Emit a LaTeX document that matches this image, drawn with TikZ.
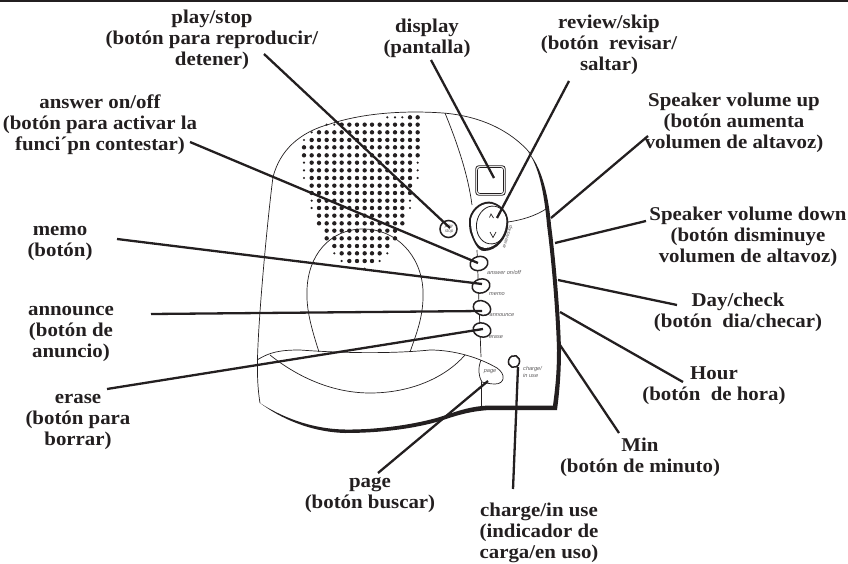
\documentclass[tikz,border=0pt]{standalone}
\usepackage{fontspec}
\usetikzlibrary{shapes.geometric}
\setmainfont[FakeStretch=1.07]{Liberation Serif}
\setsansfont{Liberation Sans}
\definecolor{ink}{HTML}{231F20}
\definecolor{tiny}{HTML}{5A5859}
\tikzset{
  lab/.style={font=\fontsize{19.5}{21}\selectfont\bfseries,align=center,inner sep=0pt,text=ink},
  leader/.style={draw=ink,line width=2.3pt},
  thin/.style={draw=ink,line width=0.7pt},
  btn/.style={draw=ink,line width=1.5pt,fill=white},
  small/.style={font=\fontsize{5.6}{6.5}\selectfont\sffamily\itshape,text=tiny,inner sep=0pt,align=left},
}
\newcommand{\bigdots}[2]{\foreach \c in {#2}{\fill[ink] ({230+\c/3},{90+#1/3}) circle (2.2);}}
\newcommand{\smdots}[2]{\foreach \c in {#2}{\fill[ink] ({230+\c/3},{90+#1/3}) circle (1.2);}}
\begin{document}
\begin{tikzpicture}[x=1pt,y=-1pt]
\useasboundingbox (0,0) rectangle (848,564);
\fill[ink] (0,0) rectangle (848,2.4);
% speaker grille
\smdots{82}{472,495,517}\bigdots{82}{540,563}
\smdots{104}{290,313}\bigdots{104}{335,358,381,404,426,449,472,495,517,540,563}
\smdots{127}{245}\bigdots{127}{267,290,313,335,358,381,404,426,449,472,495,517,540,563}
\smdots{150}{222}\bigdots{150}{245,267,290,313,335,358,381,404,426,449,472,495,517,540,563}
\bigdots{172}{222,245,267,290,313,335,358,381,404,426,449,472,495,517,540,563}
\bigdots{196}{222,245,267,290,313,335,358,381,404,426,449,472,495,517,540,563}
\foreach \r in {218,241,264}{\smdots{\r}{222,563}\bigdots{\r}{245,267,290,313,335,358,381,404,426,449,472,495,517,540}}
\foreach \r in {287,309}{\bigdots{\r}{245,267,290,313,335,358,381,404,426,449,472,495,517,540}}
\foreach \r in {332,354}{\smdots{\r}{245,540}\bigdots{\r}{267,290,313,335,358,381,404,426,449,472,495,517}}
\foreach \r in {377,400}{\bigdots{\r}{267,290,313,335,358,381,404,426,449,472,495,517}}
\foreach \r in {422,445}{\bigdots{\r}{290,313,335,358,381,404,426,449,472,495}}
\bigdots{468}{313,335,358,381,404,426,449,472}
\smdots{490}{313,472}\bigdots{490}{335,358,381,404,426,449}
\smdots{513}{335,449}\bigdots{513}{358,381,404,426}
\smdots{536}{404}
% body outline
\draw[thin] (260,403) .. controls (257,385) and (257,365) .. (258,345) .. controls (260,300) and (268,215) .. (273,177)
  .. controls (280,150) and (300,132) .. (330,124) .. controls (360,114) and (400,110) .. (443,113)
  .. controls (480,116) and (510,130) .. (530,153);
\fill[ink] (528,152) .. controls (540,165) and (548,190) .. (551,225) .. controls (555,255) and (560,310) .. (561,350)
  .. controls (561,375) and (559,395) .. (557,410) -- (490,410) .. controls (470,411) and (455,416) .. (443,420)
  .. controls (425,426) and (390,433) .. (345,433) .. controls (310,432) and (280,418) .. (260,403)
  .. controls (280,416) and (310,429) .. (345,429.5) .. controls (385,430) and (425,422) .. (443,416)
  .. controls (455,412) and (470,406) .. (490,405.5) -- (553,405.5) .. controls (555,390) and (557,375) .. (557,350)
  .. controls (556,310) and (551,255) .. (547,225) .. controls (544,190) and (538,165) .. (528,152) -- cycle;
% handset arch
\draw[thin] (319,352) .. controls (312,330) and (306,310) .. (307,290) .. controls (308,255) and (330,229) .. (363,229)
  .. controls (396,229) and (421,255) .. (423,290) .. controls (424,315) and (417,332) .. (410,352);
% cradle
\draw[thin] (257,360) .. controls (270,352) and (280,350) .. (300,350) .. controls (340,353) and (390,354) .. (430,350)
  .. controls (455,350) and (480,358) .. (497,368) .. controls (506,374) and (505,384) .. (495,384)
  .. controls (490,384) and (486,383) .. (482,382) .. controls (478,375) and (478,368) .. (481,360);
\draw[thin] (270,355) .. controls (295,375) and (330,393) .. (370,393) .. controls (410,393) and (445,378) .. (465,355);
% vertical seam and display panel
\draw[thin] (481,408) -- (481,382);
\draw[thin] (481,357) -- (477,250);
\draw[thin] (445,113) .. controls (458,145) and (468,175) .. (472,205);
\draw[thin] (508,222) .. controls (522,220) and (535,216) .. (546,209);
% display
\node[draw=ink,line width=0.8pt,rounded corners=3pt,minimum width=29.5pt,minimum height=29.5pt,inner sep=0pt] (disp) at (490.5,180.5) {};
\node[draw=ink,line width=0.6pt,rounded corners=2.5pt,minimum width=26pt,minimum height=26pt,inner sep=0pt] (dispin) at (490.5,180.5) {};
% review/skip control
\fill[ink] (469,219) .. controls (472,206) and (484,200) .. (492,202) .. controls (503,205) and (510,215) .. (508,226)
  .. controls (507,238) and (497,251) .. (484,251) .. controls (477,251) and (473,240) .. (470,232) .. controls (469,228) and (469,223) .. (469,219) -- cycle;
\fill[white] (471,219) .. controls (474,208) and (484,202) .. (492,204) .. controls (502,207) and (508,215) .. (506,225)
  .. controls (505,236) and (496,248) .. (485,248) .. controls (478,248) and (474,239) .. (472,231) .. controls (471,227) and (471,223) .. (471,219) -- cycle;
\node[draw=ink,line width=0.8pt,ellipse,minimum width=31pt,minimum height=38pt,inner sep=0pt,rotate=-8] (rev) at (492,225) {};
\draw[ink,line width=0.7pt] (489.5,217.5) -- (491,214) -- (493.5,218);
\draw[ink,line width=0.7pt] (490,232) -- (493,237.5) -- (496,232);
\node[small,rotate=72,font=\fontsize{4.8}{5}\selectfont\sffamily\itshape] at (507.5,237) {review/skip};
% buttons
\node[btn,circle,minimum size=17pt,inner sep=0pt] (play) at (448.5,229) {};
\node[small,font=\fontsize{4.5}{4.5}\selectfont\sffamily\itshape,align=center] at (449,229) {play\\stop};
\node[btn,ellipse,minimum width=18pt,minimum height=14pt,inner sep=0pt,rotate=15] (answer) at (479,263.5) {};
\node[btn,ellipse,minimum width=18pt,minimum height=14pt,inner sep=0pt,rotate=15] (memo) at (481,286) {};
\node[btn,ellipse,minimum width=18pt,minimum height=14pt,inner sep=0pt,rotate=-25] (ann) at (482,308) {};
\node[btn,ellipse,minimum width=18pt,minimum height=14pt,inner sep=0pt,rotate=-15] (erase) at (482,330) {};
\node[btn,ellipse,minimum width=11pt,minimum height=12pt,inner sep=0pt,rotate=-20] (charge) at (514,361.5) {};
% tiny labels
\node[small] at (504,272) {answer on/off};
\node[small] at (497,294) {memo};
\node[small] at (502,315) {announce};
\node[small] at (496,337) {erase};
\node[small] at (490,372) {page};
\node[small,anchor=west] at (523,372) {charge/\\in use};
% labels
\node[lab] (lPlay) at (212,40) {play/stop\\(botón para reproducir/\\detener)};
\node[lab] (lDisp) at (427,38) {display\\(pantalla)};
\node[lab] (lRev) at (609,45) {review/skip\\(botón~ revisar/\\saltar)};
\node[lab] (lAns) at (100,125) {answer on/off\\(botón para activar la\\funci´pn contestar)};
\node[lab] (lUp) at (734,123) {Speaker volume up\\(botón aumenta\\volumen de altavoz)};
\node[lab] (lDown) at (748,237) {Speaker volume down\\(botón disminuye\\volumen de altavoz)};
\node[lab] (lDay) at (738,312) {Day/check\\(botón~ dia/checar)};
\node[lab] (lHour) at (714,386) {Hour\\(botón~ de hora)};
\node[lab] (lMin) at (640,457) {Min\\(botón de minuto)};
\node[lab] (lChg) at (539,533) {charge/in use\\(indicador de\\carga/en uso)};
\node[lab] (lPage) at (370,495) {page\\(botón buscar)};
\node[lab] (lErase) at (78,422) {erase\\(botón para\\borrar)};
\node[lab] (lAnn) at (71,334) {announce\\(botón de\\anuncio)};
\node[lab] (lMemo) at (60,243) {memo\\(botón)};
% leader ends
\coordinate (sPlay) at (264,54); \coordinate (ePlay) at (450,228);
\coordinate (sDisp) at (431,60); \coordinate (eDisp) at (494,178);
\coordinate (sRev) at (569,81); \coordinate (eRev) at (497,218);
\coordinate (sAns) at (190,142); \coordinate (eAns) at (478,263);
\coordinate (sMemo) at (117,239); \coordinate (eMemo) at (482,284);
\coordinate (sAnn) at (151,314); \coordinate (eAnn) at (482,311);
\coordinate (sErase) at (107,389); \coordinate (eErase) at (483,329);
\coordinate (sPage) at (378,473); \coordinate (ePage) at (488,381);
\coordinate (sChg) at (513,489); \coordinate (eChg) at (518,367);
\coordinate (sUp) at (648,136); \coordinate (eUp) at (551,218);
\coordinate (sDown) at (646,221); \coordinate (eDown) at (555,243);
\coordinate (sDay) at (677,305); \coordinate (eDay) at (558,280);
\coordinate (sHour) at (683,382); \coordinate (eHour) at (560,312);
\coordinate (sMin) at (619,433); \coordinate (eMin) at (560,345);
\foreach \a/\b in {sPlay/ePlay,sDisp/eDisp,sRev/eRev,sAns/eAns,sMemo/eMemo,sAnn/eAnn,sErase/eErase,sPage/ePage,sChg/eChg,sUp/eUp,sDown/eDown,sDay/eDay,sHour/eHour,sMin/eMin}
  \draw[leader] (\a) -- (\b);
\end{tikzpicture}
\end{document}
